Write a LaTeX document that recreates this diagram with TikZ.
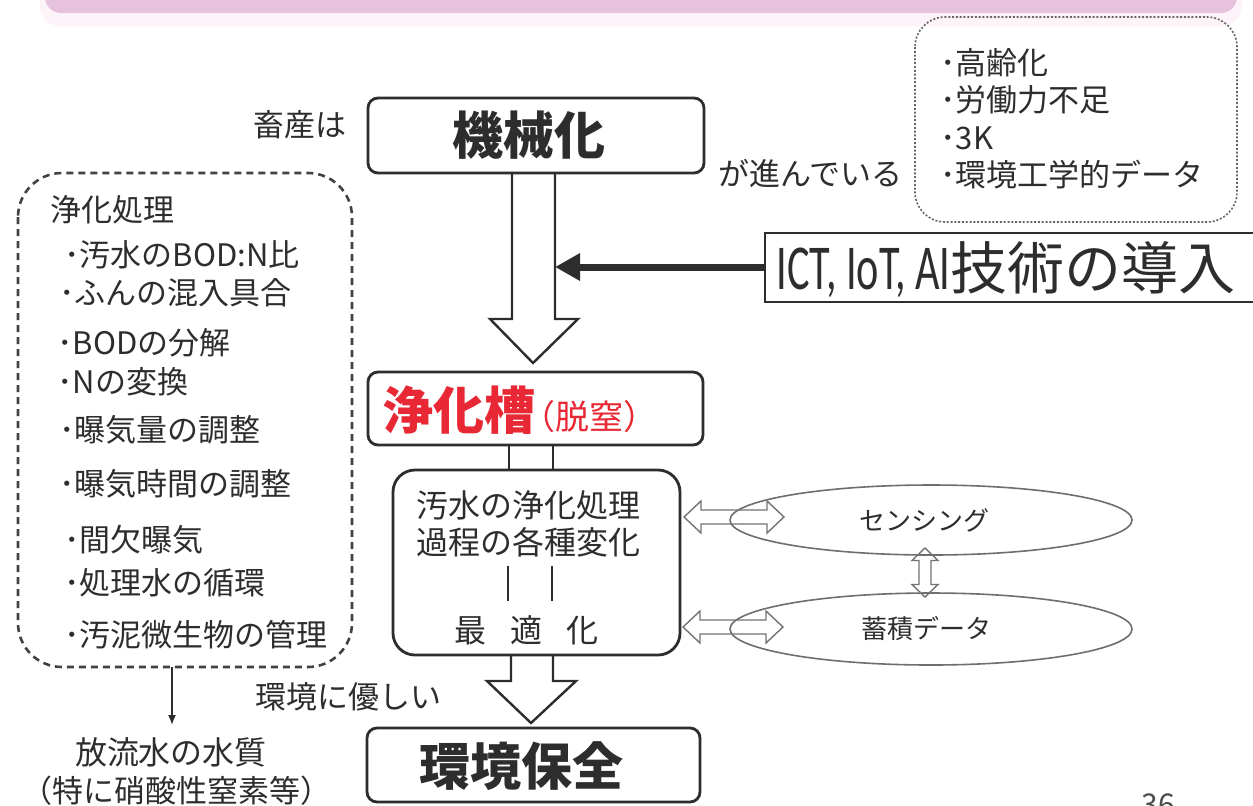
\documentclass[tikz,border=0pt]{standalone}
\usepackage{fontspec}
\usepackage{graphicx}
\setmainfont{Noto Sans CJK JP}
\newfontfamily\latinfont{Carlito}
\usetikzlibrary{arrows.meta,shapes.geometric}
\definecolor{bandpink}{RGB}{230,194,220}
\definecolor{glowpink}{RGB}{253,244,250}
\definecolor{ink}{RGB}{45,45,45}
\definecolor{redtxt}{RGB}{232,40,52}
\definecolor{ellgray}{RGB}{110,110,110}
\tikzset{
  hdbl/.pic={\draw[draw=black!55, line width=0.7pt] (-50,0) -- (-33,-16) -- (-33,-7) -- (33,-7) -- (33,-16) -- (50,0) -- (33,16) -- (33,7) -- (-33,7) -- (-33,16) -- cycle;},
  vdbl/.pic={\draw[draw=black!55, line width=0.7pt] (0,-24.5) -- (13,-12) -- (6,-12) -- (6,12) -- (13,12) -- (0,24.5) -- (-13,12) -- (-6,12) -- (-6,-12) -- (-13,-12) -- cycle;}
}
\begin{document}
\begin{tikzpicture}[x=0.5pt,y=-0.5pt,
  every node/.style={inner sep=0pt, text=ink},
  t/.style={font=\fontsize{15.5}{18}\selectfont, anchor=west},
  tc/.style={font=\fontsize{15.5}{18}\selectfont},
  mainbox/.style={draw=ink, line width=1.4pt, rounded corners=5pt},
  bigtext/.style={font=\fontsize{25.5}{30}\selectfont\bfseries},
  hollow/.style={draw=ink, line width=1.2pt, line join=miter},
  ell/.style={ellipse, draw=ellgray, line width=0.8pt, minimum width=201pt, minimum height=35pt},
  dashbox/.style={draw=ink!90, line width=1.3pt, dash pattern=on 3.5pt off 2.5pt, rounded corners=22pt},
  dotbox/.style={draw=black!60, line width=0.8pt, dash pattern=on 1pt off 0.9pt, rounded corners=15pt}
]
\useasboundingbox (0,0) rectangle (1253,805);
\fill[white] (0,0) rectangle (1253,805);

% top band
\fill[glowpink, rounded corners=10pt] (40,-30) rectangle (1242,26);
\fill[bandpink, rounded corners=8pt] (45,-30) rectangle (1237,13);

% right dotted box
\draw[dotbox] (915,17) rectangle (1237,222);
\node[t] (r1) at (940,63) {･高齢化};
\node[t] (r2) at (940,100) {･労働力不足};
\node[t] (r3) at (940,138) {･3K};
\node[t] (r4) at (940,175) {･環境工学的データ};

% top box
\node[mainbox, minimum width=168pt, minimum height=37.5pt] (kikai) at (536,135.5) {};
\node[bigtext] (kikait) at (529,135) {機械化};
\node[t] (chikusan) at (253,125) {畜産は};
\node[t] (susun) at (718,173) {が進んでいる};

% big hollow arrow 1
\draw[hollow] (512,173) -- (512,319) -- (490,319) -- (533,363) -- (578,319) -- (555,319) -- (555,173);

% ICT box and arrow
\node[draw=ink, line width=1pt, minimum width=260pt, minimum height=34.5pt] (ict) at (1025,267) {};
\node[anchor=west] (ictt) at (776,270) {{\latinfont\fontsize{32}{36}\selectfont\scalebox{0.66}[1]{ICT, IoT, AI}}{\fontsize{28.5}{30}\selectfont 技術の導入}};
\coordinate (shaftR) at (555,267);
\draw[ink, line width=3.5pt, -{Triangle[length=12.5pt,width=13pt]}] (ict.west) -- (shaftR);

% jouka box
\node[mainbox, minimum width=167.5pt, minimum height=36.5pt] (jouka) at (535.5,408.5) {};
\node[anchor=west] (joukat) at (382,410) {{\color{redtxt}\fontsize{25.5}{30}\selectfont\bfseries 浄化槽}\hspace{-7pt}{\color{redtxt}\fontsize{17}{18}\selectfont（脱窒）}};

\draw[ink, line width=1.2pt] (509,445) -- (509,470) (553,445) -- (553,470);

% process box
\node[draw=ink, line width=1.4pt, rounded corners=11pt, minimum width=143.5pt, minimum height=92.5pt] (proc) at (536.5,562.5) {};
\node[font=\fontsize{16}{18}\selectfont] (p1) at (528,505) {汚水の浄化処理};
\node[font=\fontsize{16}{18}\selectfont] (p2) at (528,542) {過程の各種変化};
\draw[ink, line width=1.1pt] (508,566) -- (508,601) (552,566) -- (552,601);
\node[font=\fontsize{16}{18}\selectfont] (p3) at (526,630) {最\hspace{12pt}適\hspace{12pt}化};

% ellipses
\node[ell] (sens) at (931,520) {};
\node[font=\fontsize{13}{16}\selectfont] at (924,520) {センシング};
\node[ell, minimum height=36pt] (data) at (931,629) {};
\node[font=\fontsize{13}{16}\selectfont] at (926,629) {蓄積データ};
\pic at (734,517) {hdbl};
\pic at (733,627) {hdbl};
\pic at (925,572.5) {vdbl};

% big hollow arrow 2
\draw[hollow] (511,655) -- (511,681) -- (487,681) -- (531,723) -- (576,681) -- (553,681) -- (553,655);
\node[t] (yasa) at (255,697) {環境に優しい};

% bottom box
\node[mainbox, minimum width=166.5pt, minimum height=37pt] (hozen) at (533.5,765) {};
\node[bigtext] (hozent) at (521,766) {環境保全};

% left dashed box
\draw[dashbox] (18,173) rectangle (352,667);
\node[t] (l0) at (50,210) {浄化処理};
\node[t] (l1) at (64,255) {･汚水のBOD:N比};
\node[t] (l2) at (59,293) {･ふんの混入具合};
\node[t] (l3) at (57,343) {･BODの分解};
\node[t] (l4) at (57,382) {･Nの変換};
\node[t] (l5) at (59,430) {･曝気量の調整};
\node[t] (l6) at (59,484) {･曝気時間の調整};
\node[t] (l7) at (64,540) {･間欠曝気};
\node[t] (l8) at (64,583) {･処理水の循環};
\node[t] (l9) at (64,635) {･汚泥微生物の管理};

\coordinate (lout) at (172,667);
\node[font=\fontsize{16}{18}\selectfont] (houryu) at (171,752) {放流水の水質};
\node[tc] (houryu2) at (176,791) {（特に硝酸性窒素等）};
\draw[ink, line width=0.8pt, -{Latex[length=5pt,width=4pt]}] (lout) -- (172,725);

% page number (cut at the bottom edge, as in the reference)
\node[font=\fontsize{15}{18}\selectfont, text=black!70, anchor=north] (pg) at (1158,793) {36};
\end{tikzpicture}
\end{document}
